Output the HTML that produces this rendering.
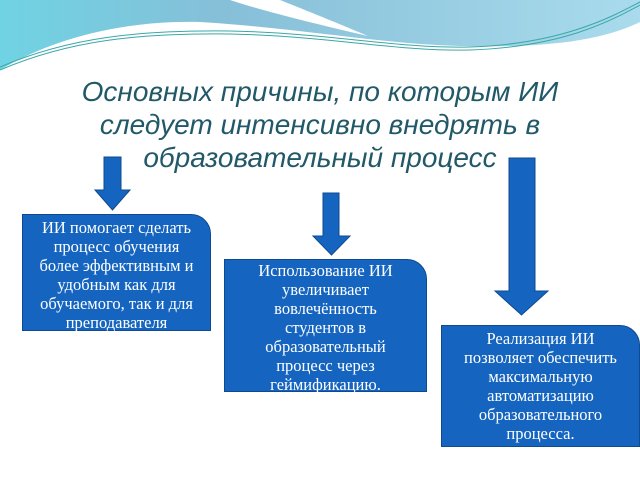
<!DOCTYPE html>
<html><head><meta charset="utf-8"><style>
html,body{margin:0;padding:0;background:#fff;}
#c{position:relative;width:640px;height:480px;overflow:hidden;background:#fff;font-family:"Liberation Serif",serif;}
.t{position:absolute;left:0;width:640px;text-align:center;font-family:"Liberation Sans",sans-serif;font-style:italic;font-size:28px;color:#215968;line-height:33px;top:75px;white-space:nowrap;}
.b{position:absolute;background:#1565c0;color:#fff;border:1px solid #0d4a8f;border-top-right-radius:20px;text-align:center;font-size:16.5px;line-height:19px;box-sizing:border-box;white-space:nowrap;}
</style></head><body><div id="c">
<svg width="640" height="480" style="position:absolute;left:0;top:0">
<defs><linearGradient id="g" x1="0" y1="0" x2="1" y2="0"><stop offset="0" stop-color="#6fd3e3"/><stop offset="0.35" stop-color="#86bfd8"/><stop offset="1" stop-color="#a9dbec"/></linearGradient></defs>
<path d="M0,0 H640 V22 C600,42 540,48 460,46 C380,44 300,28 200,22 C120,20 50,40 0,70 Z" fill="url(#g)"/>
<path d="M230,0 C260,10 320,25 368,36 C330,20 300,8 280,0 Z" fill="#fff"/>
<path d="M0,70 C70,40 140,33 230,34 C330,36 400,52 470,50 C560,47 610,22 640,5" fill="none" stroke="#3aa8a8" stroke-width="1"/>
<path d="M0,67 C70,37 140,30 230,31 C330,33 400,49 470,47 C560,44 610,18 640,2" fill="none" stroke="#3aa8a8" stroke-width="1"/>
<g fill="#1565c0" stroke="#0d4a8f" stroke-width="1">
<path d="M104,157 H121 V190 H130 L112.5,210 L95,190 H104 Z"/>
<path d="M323,193 H339 V236 H350 L331.5,255 L313,236 H323 Z"/>
<path d="M509,158 H535 V291 H548 L521.5,315 L495,291 H509 Z"/>
</g>
</svg>
<div class="t">Основных причины, по которым ИИ<br>следует интенсивно внедрять в<br>образовательный процесс</div>
<div class="b" style="left:22px;top:214px;width:189px;height:117px;padding-top:3px">ИИ помогает сделать<br>процесс обучения<br>более эффективным и<br>удобным как для<br>обучаемого, так и для<br>преподавателя</div>
<div class="b" style="left:224px;top:259px;width:203px;height:133px;padding-top:1px">Использование ИИ<br>увеличивает<br>вовлечённость<br>студентов в<br>образовательный<br>процесс через<br>геймификацию.</div>
<div class="b" style="left:441px;top:325px;width:199px;height:122px;padding-top:3px">Реализация ИИ<br>позволяет обеспечить<br>максимальную<br>автоматизацию<br>образовательного<br>процесса.</div>
</div></body></html>
